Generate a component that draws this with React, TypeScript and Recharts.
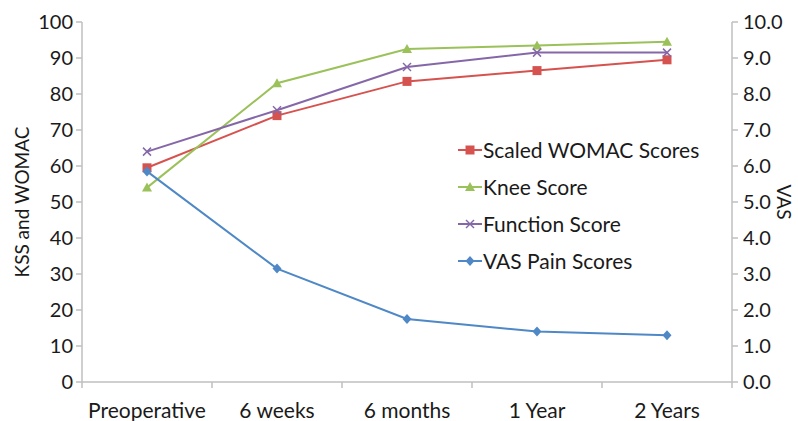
import { Line, LineChart, XAxis, YAxis } from "recharts"

const periods = ["Preoperative", "6 weeks", "6 months", "1 Year", "2 Years"]
const womacScores = [59.5, 74, 83.5, 86.5, 89.5]
const kneeScores = [54, 83, 92.5, 93.5, 94.5]
const functionScores = [64, 75.5, 87.5, 91.5, 91.5]
const vasScores = [5.85, 3.15, 1.75, 1.4, 1.3]
const leftTicks = [0, 10, 20, 30, 40, 50, 60, 70, 80, 90, 100]
const rightTicks = [0, 1, 2, 3, 4, 5, 6, 7, 8, 9, 10]

const chartData = periods.map((period, i) => ({
  period,
  womac: womacScores[i],
  knee: kneeScores[i],
  func: functionScores[i],
  vas: vasScores[i],
}))

const FONT = "Lato, 'Open Sans', sans-serif"
const AXIS = "#bfbfbf"
const TEXT = "#1a1a1a"
const BAND = 130

const series = [
  { key: "womac", name: "Scaled WOMAC Scores", color: "#d6524f", shape: "square", axis: "left" },
  { key: "knee", name: "Knee Score", color: "#9bc15a", shape: "triangle", axis: "left" },
  { key: "func", name: "Function Score", color: "#8567a8", shape: "cross", axis: "left" },
  { key: "vas", name: "VAS Pain Scores", color: "#4f88c6", shape: "diamond", axis: "right" },
]

const Marker = ({ cx, cy, shape, color }: any) => {
  if (cx == null || cy == null) return null
  if (shape === "square")
    return <rect x={cx - 4.5} y={cy - 4.5} width={9} height={9} fill={color} />
  if (shape === "triangle")
    return <polygon points={`${cx},${cy - 5} ${cx + 5},${cy + 4} ${cx - 5},${cy + 4}`} fill={color} />
  if (shape === "cross")
    return (
      <g stroke={color} strokeWidth={1.5}>
        <line x1={cx - 4} y1={cy - 4} x2={cx + 4} y2={cy + 4} />
        <line x1={cx - 4} y1={cy + 4} x2={cx + 4} y2={cy - 4} />
      </g>
    )
  return <polygon points={`${cx},${cy - 5} ${cx + 4.5},${cy} ${cx},${cy + 5} ${cx - 4.5},${cy}`} fill={color} />
}

const CategoryTick = ({ x, y, payload, index }: any) => (
  <g>
    <line x1={x - BAND / 2} y1={y - 8} x2={x - BAND / 2} y2={y - 2} stroke={AXIS} strokeWidth={1.5} />
    {index === periods.length - 1 && (
      <line x1={x + BAND / 2} y1={y - 8} x2={x + BAND / 2} y2={y - 2} stroke={AXIS} strokeWidth={1.5} />
    )}
    <text x={x} y={y + 28} textAnchor="middle" fontSize={21} fill={TEXT} fontFamily={FONT}>
      {payload.value}
    </text>
  </g>
)

const LegendBox = () => (
  <div
    style={{
      position: "absolute",
      left: 458,
      top: 131,
      fontFamily: FONT,
      fontSize: 21,
      color: TEXT,
    }}
  >
    {series.map((s) => (
      <div key={s.key} style={{ display: "flex", alignItems: "center", height: 37 }}>
        <svg width={24} height={14} style={{ marginRight: 1 }}>
          <line x1={0} y1={7} x2={24} y2={7} stroke={s.color} strokeWidth={2} />
          <Marker cx={12} cy={7} shape={s.shape} color={s.color} />
        </svg>
        <span>{s.name}</span>
      </div>
    ))}
  </div>
)

export default function App() {
  return (
    <div style={{ position: "absolute", left: 0, top: 0, width: 798, height: 421, background: "#fff" }}>
      <LineChart
        width={798}
        height={421}
        data={chartData}
        margin={{ top: 22, right: 0, left: 0, bottom: 0 }}
      >
        <XAxis
          dataKey="period"
          height={39}
          padding={{ left: BAND / 2, right: BAND / 2 }}
          tickLine={false}
          stroke={AXIS}
          strokeWidth={1.5}
          tick={<CategoryTick />}
          interval={0}
        />
        <YAxis
          yAxisId="left"
          width={82}
          domain={[0, 100]}
          ticks={leftTicks}
          interval={0}
          stroke={AXIS}
          strokeWidth={1.5}
          tickSize={6}
          tick={{ fill: TEXT, fontSize: 20, fontFamily: FONT, dx: -1 }}
          label={{
            value: "KSS and WOMAC",
            angle: -90,
            position: "insideLeft",
            offset: 22,
            style: { fill: TEXT, fontSize: 19, fontFamily: FONT, textAnchor: "middle" },
          }}
        />
        <YAxis
          yAxisId="right"
          orientation="right"
          width={66}
          domain={[0, 10]}
          ticks={rightTicks}
          interval={0}
          stroke={AXIS}
          strokeWidth={1.5}
          tickSize={6}
          tickFormatter={(v) => Number(v).toFixed(1)}
          tick={{ fill: TEXT, fontSize: 20, fontFamily: FONT, dx: 3 }}
          label={{
            value: "VAS",
            angle: 90,
            position: "insideRight",
            offset: 14,
            style: { fill: TEXT, fontSize: 19, fontFamily: FONT, textAnchor: "middle" },
          }}
        />
        {series.map((s) => (
          <Line
            key={s.key}
            yAxisId={s.axis}
            dataKey={s.key}
            name={s.name}
            stroke={s.color}
            strokeWidth={2}
            isAnimationActive={false}
            dot={(p: any) => <Marker key={`${s.key}-${p.index}`} cx={p.cx} cy={p.cy} shape={s.shape} color={s.color} />}
            activeDot={false}
          />
        ))}
      </LineChart>
      <LegendBox />
    </div>
  )
}
